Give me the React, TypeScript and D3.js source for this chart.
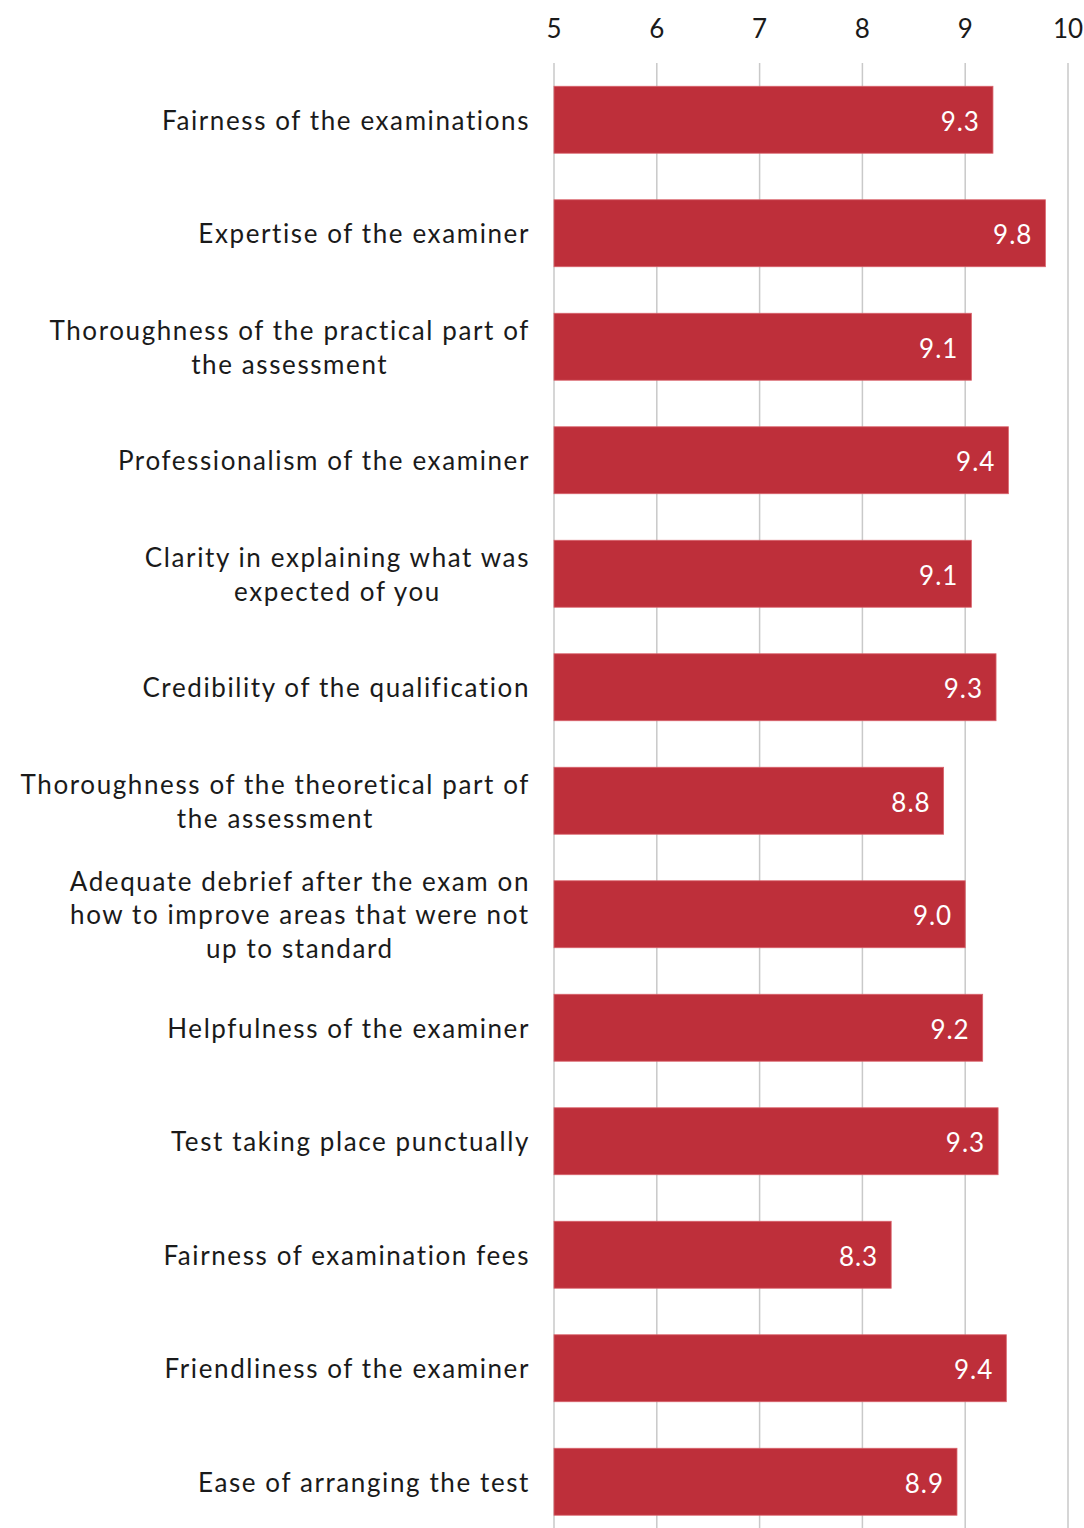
import React, { useEffect, useRef } from "react";
import * as d3 from "d3";

const categories: string[] = [
  "Fairness of the examinations",
  "Expertise of the examiner",
  "Thoroughness of the practical part of\nthe assessment",
  "Professionalism of the examiner",
  "Clarity in explaining what was\nexpected of you",
  "Credibility of the qualification",
  "Thoroughness of the theoretical part of\nthe assessment",
  "Adequate debrief after the exam on\nhow to improve areas that were not\nup to standard",
  "Helpfulness of the examiner",
  "Test taking place punctually",
  "Fairness of examination fees",
  "Friendliness of the examiner",
  "Ease of arranging the test",
];
const values: number[] = [9.27, 9.78, 9.06, 9.42, 9.06, 9.3, 8.79, 9.0, 9.17, 9.32, 8.28, 9.4, 8.92];
const tickValues: number[] = [5, 6, 7, 8, 9, 10];

const W = 1084;
const H = 1528;
const FONT = "Lato, 'Open Sans', sans-serif";

export default function App() {
  const ref = useRef<SVGSVGElement | null>(null);

  useEffect(() => {
    const svg = d3.select(ref.current);
    svg.selectAll("*").remove();

    const x = d3.scaleLinear().domain([5, 10]).range([554, 1068]);
    const y = d3
      .scaleBand<string>()
      .domain(categories)
      .range([63, 63 + 13 * 113.5])
      .paddingInner(0.41)
      .paddingOuter(0.205);

    // gridlines
    svg
      .append("g")
      .selectAll("line")
      .data(tickValues)
      .join("line")
      .attr("x1", (d) => x(d))
      .attr("x2", (d) => x(d))
      .attr("y1", 63)
      .attr("y2", H)
      .attr("stroke", "#c9c9c9")
      .attr("stroke-width", 1.5);

    // tick labels
    svg
      .append("g")
      .selectAll("text")
      .data(tickValues)
      .join("text")
      .attr("x", (d) => x(d))
      .attr("y", 28)
      .attr("text-anchor", "middle")
      .attr("dominant-baseline", "central")
      .attr("font-family", FONT)
      .attr("font-size", 26)
      .attr("fill", "#1a1a1a")
      .text((d) => String(d));

    // bars
    svg
      .append("g")
      .selectAll("rect")
      .data(categories)
      .join("rect")
      .attr("x", x(5))
      .attr("y", (d) => y(d)!)
      .attr("width", (d, i) => x(values[i]) - x(5))
      .attr("height", y.bandwidth())
      .attr("fill", "#be2f3a")
      .attr("stroke", "#d9646c")
      .attr("stroke-width", 0.8);

    // value labels
    svg
      .append("g")
      .selectAll("text")
      .data(categories)
      .join("text")
      .attr("x", (d, i) => x(values[i]) - 13)
      .attr("y", (d) => y(d)! + y.bandwidth() / 2 + 1)
      .attr("text-anchor", "end")
      .attr("dominant-baseline", "central")
      .attr("font-family", FONT)
      .attr("font-size", 26)
      .attr("letter-spacing", 1)
      .attr("fill", "#ffffff")
      .text((d, i) => values[i].toFixed(1));

    // category labels
    const lineH = 33.5;
    const labelRight = 530;
    const g = svg.append("g");
    categories.forEach((c) => {
      const lines = c.split("\n");
      const cy = y(c)! + y.bandwidth() / 2;
      const t = g
        .append("text")
        .attr("font-family", FONT)
        .attr("font-size", 26)
        .attr("letter-spacing", 1.6)
        .attr("fill", "#1a1a1a")
        .attr("dominant-baseline", "central");
      const spans = lines.map((ln, k) =>
        t
          .append("tspan")
          .attr("y", cy + (k - (lines.length - 1) / 2) * lineH)
          .text(ln)
      );
      const widths = spans.map((s) => (s.node() as SVGTSpanElement).getComputedTextLength());
      const maxW = d3.max(widths) || 0;
      const center = labelRight - maxW / 2;
      spans.forEach((s) => s.attr("x", center).attr("text-anchor", "middle"));
    });
  }, []);

  return (
    <div style={{ position: "absolute", left: 0, top: 0 }}>
      <svg ref={ref} width={W} height={H} style={{ display: "block", background: "#fff" }} />
    </div>
  );
}
